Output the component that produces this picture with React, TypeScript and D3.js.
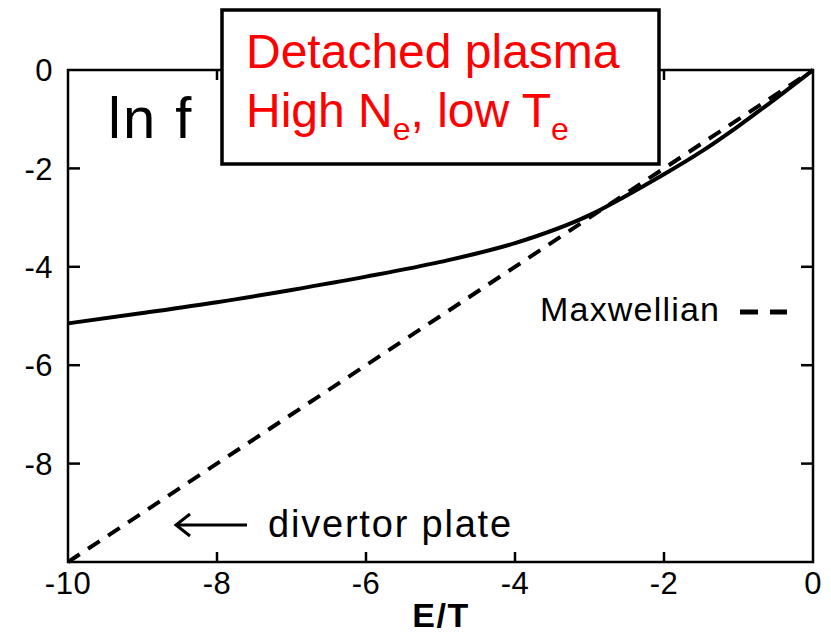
import React from "react";
import * as d3 from "d3";

// E/T values and ln f of the detached-plasma distribution
const energy = [-10, -9, -8, -7, -6, -5, -4, -3, -2.5, -2, -1.5, -1, -0.5, 0];
const lnF = [-5.15, -4.94, -4.72, -4.47, -4.2, -3.9, -3.52, -2.95, -2.55, -2.12, -1.66, -1.14, -0.58, 0];
// Maxwellian reference: ln f = E/T
const maxwellE = [-10, 0];
const maxwellF = [-10, 0];

const xTicks = [-10, -8, -6, -4, -2, 0];
const yTicks = [0, -2, -4, -6, -8];
const innerTicks = [-8, -6, -4, -2];

const font = "Liberation Sans, Arial, Helvetica, sans-serif";

export default function App() {
	const width = 831;
	const height = 636;

	const x = d3.scaleLinear().domain([-10, 0]).range([68, 813]);
	const y = d3.scaleLinear().domain([0, -10]).range([70, 562]);

	const line = d3.line<[number, number]>()
		.x(d => x(d[0]))
		.y(d => y(d[1]))
		.curve(d3.curveMonotoneX);

	const solid = energy.map((e, i) => [e, lnF[i]] as [number, number]);
	const maxwell = maxwellE.map((e, i) => [e, maxwellF[i]] as [number, number]);

	const [x0, x1] = x.range();
	const [y0, y1] = y.range();

	return (
		<svg width={width} height={height} style={{ position: "absolute", left: 0, top: 0, background: "white" }}>
			{/* frame */}
			<rect x={x0} y={y0} width={x1 - x0} height={y1 - y0} fill="none" stroke="black" strokeWidth={2.5} />

			{/* ticks, all pointing inward */}
			{innerTicks.map(t => (
				<g key={"t" + t} stroke="black" strokeWidth={2.5}>
					<line x1={x0} x2={x0 + 12} y1={y(t)} y2={y(t)} />
					<line x1={x1} x2={x1 - 12} y1={y(t)} y2={y(t)} />
					<line x1={x(t)} x2={x(t)} y1={y1} y2={y1 - 10} />
					<line x1={x(t)} x2={x(t)} y1={y0} y2={y0 + 10} />
				</g>
			))}

			{/* curves */}
			<path d={line(maxwell) || ""} fill="none" stroke="black" strokeWidth={4} strokeDasharray="14,10" />
			<path d={line(solid) || ""} fill="none" stroke="black" strokeWidth={4} />

			{/* tick labels */}
			{xTicks.map(t => (
				<text key={"xl" + t} x={x(t)} y={594} textAnchor="middle" fontFamily={font} fontSize={31} letterSpacing={0.5}>
					{t}
				</text>
			))}
			{yTicks.map(t => (
				<text key={"yl" + t} x={53} y={y(t)} dy="0.36em" textAnchor="end" fontFamily={font} fontSize={31} letterSpacing={0.5}>
					{t}
				</text>
			))}

			<text x={441} y={627} textAnchor="middle" fontFamily={font} fontSize={34} fontWeight="bold" letterSpacing={1.5}>E/T</text>
			<text x={108} y={138} fontFamily={font} fontSize={58} letterSpacing={2}>ln f</text>

			{/* legend */}
			<text x={540} y={321} fontFamily={font} fontSize={34} letterSpacing={1.2}>Maxwellian</text>
			<line x1={740} x2={758} y1={312} y2={312} stroke="black" strokeWidth={5} />
			<line x1={770} x2={787} y1={312} y2={312} stroke="black" strokeWidth={5} />

			{/* divertor plate note */}
			<g stroke="black" strokeWidth={3} fill="none">
				<line x1={176} x2={247} y1={525} y2={525} />
				<path d="M190,514 L176,525 L190,536" />
			</g>
			<text x={268} y={537} fontFamily={font} fontSize={38} letterSpacing={1.8}>divertor plate</text>

			{/* red annotation box */}
			<rect x={222} y={10} width={437} height={154} fill="white" stroke="black" strokeWidth={3.5} />
			<text x={246} y={68} fontFamily={font} fontSize={48} fill="#ff0000">Detached plasma</text>
			<text x={246} y={127} fontFamily={font} fontSize={48} fill="#ff0000">
				High N<tspan fontSize={32} dy={13}>e</tspan><tspan dy={-13}>, low T</tspan><tspan fontSize={32} dy={13}>e</tspan>
			</text>
		</svg>
	);
}
